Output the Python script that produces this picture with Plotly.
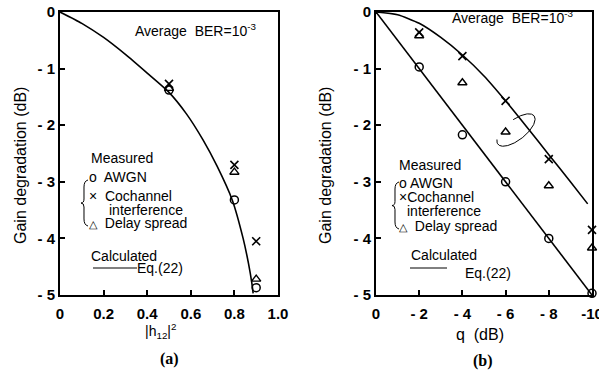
import numpy as np
import plotly.graph_objects as go

W, H = 599, 373

# ---------------- data (a) ----------------
h_curve_x = [0, 0.1, 0.2, 0.3, 0.4, 0.5, 0.58, 0.656, 0.72, 0.79, 0.84, 0.865, 0.88, 0.886]
h_curve_y = [0, -0.2, -0.45, -0.75, -1.08, -1.42, -1.8, -2.26, -2.72, -3.32, -4.0, -4.45, -4.79, -4.97]
h_meas = [0.5, 0.8, 0.9]
awgn_a = [-1.38, -3.32, -4.87]
cci_a = [-1.27, -2.70, -4.05]
delay_a = [-1.35, -2.83, -4.72]

# ---------------- data (b) ----------------
q_line_x = [0, -10]
q_line_y = [0, -5]
q_curve_x = [0, -1, -2, -3, -4, -5, -6, -7, -8, -9, -9.8]
q_curve_y = [0, -0.05, -0.2, -0.45, -0.76, -1.13, -1.57, -2.04, -2.52, -3.0, -3.39]
q_meas = [-2, -4, -6, -8, -10]
awgn_b = [-0.97, -2.17, -3.0, -4.0, -4.97]
cci_b = [-0.36, -0.78, -1.57, -2.6, -3.85]
delay_b = [-0.42, -1.25, -2.12, -3.07, -4.17]

y_ticks = [0, -1, -2, -3, -4, -5]
y_ticktext = ["0", "- 1", "- 2", "- 3", "- 4", "- 5"]
xa_ticks = [0, 0.2, 0.4, 0.6, 0.8, 1.0]
xa_ticktext = ["0", "0.2", "0.4", "0.6", "0.8", "1.0"]
xb_ticks = [0, -2, -4, -6, -8, -10]
xb_ticktext = ["0", "- 2", "- 4", "- 6", "- 8", "-10"]

FONT = "Liberation Sans"

# pixel geometry
AX0, AX1 = 60, 278
BX0, BX1 = 376, 592
YT, YB = 12, 295


def px(x):
    return x / W


def py(y):
    return 1 - y / H


fig = go.Figure()

line_style = dict(color="black", width=1.6)
common = dict(mode="markers", cliponaxis=False, showlegend=False, hoverinfo="skip")


def add_panel(xref, yref, cx, cy_list, meas_x, awgn, cci, delay):
    for cxv, cyv in zip(cx, cy_list):
        fig.add_trace(go.Scatter(x=cxv, y=cyv, mode="lines",
                                 line=dict(shape="spline", smoothing=0.6, **line_style),
                                 xaxis=xref, yaxis=yref, showlegend=False, hoverinfo="skip"))
    fig.add_trace(go.Scatter(x=meas_x, y=awgn, marker=dict(symbol="circle-open", size=8, color="black",
                                                            line=dict(width=1.5, color="black")),
                             xaxis=xref, yaxis=yref, **common))
    fig.add_trace(go.Scatter(x=meas_x, y=cci, marker=dict(symbol="x-thin", size=8, color="black",
                                                           line=dict(width=1.6, color="black")),
                             xaxis=xref, yaxis=yref, **common))
    fig.add_trace(go.Scatter(x=meas_x, y=delay, marker=dict(symbol="triangle-up-open", size=8, color="black",
                                                             line=dict(width=1.4, color="black")),
                             xaxis=xref, yaxis=yref, **common))


add_panel("x", "y", [h_curve_x], [h_curve_y], h_meas, awgn_a, cci_a, delay_a)
add_panel("x2", "y2", [q_line_x, q_curve_x], [q_line_y, q_curve_y], q_meas, awgn_b, cci_b, delay_b)

# ellipse annotation in panel (b): centre in data coords, size in pixels
ell_cq, ell_cy = -6.48, -2.085
ell_a, ell_b, ell_theta = 23, 10, np.deg2rad(38)
pxq = (BX1 - BX0) / 10.0
pxy = (YB - YT) / 5.0
t = np.deg2rad(np.linspace(-205, 80, 120))
dx = ell_a * np.cos(t) * np.cos(ell_theta) - ell_b * np.sin(t) * np.sin(ell_theta)
dy = ell_a * np.cos(t) * np.sin(ell_theta) + ell_b * np.sin(t) * np.cos(ell_theta)
fig.add_trace(go.Scatter(x=ell_cq - dx / pxq, y=ell_cy + dy / pxy, mode="lines",
                         line=dict(color="black", width=1), xaxis="x2", yaxis="y2",
                         showlegend=False, hoverinfo="skip", cliponaxis=False))

axis_common = dict(showgrid=False, zeroline=False, showline=True, linecolor="black", linewidth=2,
                   mirror=True, ticks="inside", ticklen=5, tickwidth=1.5, tickcolor="black",
                   automargin=False, ticklabeloverflow="allow",
                   tickfont=dict(family=FONT, size=15, color="black", weight="bold"))

fig.update_layout(
    width=W, height=H, margin=dict(l=0, r=0, t=0, b=0, autoexpand=False),
    paper_bgcolor="white", plot_bgcolor="white",
    xaxis=dict(domain=[px(AX0), px(AX1)], range=[0, 1.0], tickvals=xa_ticks, ticktext=xa_ticktext,
               anchor="y", ticklabelstandoff=4, **axis_common),
    yaxis=dict(domain=[py(YB), py(YT)], range=[-5, 0], tickvals=y_ticks, ticktext=y_ticktext,
               anchor="x", **axis_common),
    xaxis2=dict(domain=[px(BX0), px(BX1)], range=[0, -10], tickvals=xb_ticks, ticktext=xb_ticktext,
                anchor="y2", ticklabelstandoff=4, **axis_common),
    yaxis2=dict(domain=[py(YB), py(YT)], range=[-5, 0], tickvals=y_ticks, ticktext=y_ticktext,
                anchor="x2", **axis_common),
)


def text(x, y, s, size=14, xanchor="left", family=FONT, angle=0):
    fig.add_annotation(x=px(x), y=py(y), xref="paper", yref="paper", text=s, showarrow=False,
                       xanchor=xanchor, yanchor="middle", textangle=angle, borderpad=0,
                       font=dict(family=family, size=size, color="black"))


def sym(ch, size):
    return f'<span style="font-size:{size}px">{ch}</span>'


def brace(x, y0, y1):
    ym = (y0 + y1) / 2
    pts = [("M", x + 4, y0), ("Q", x, y0 + 1), ("", x, y0 + 7), ("L", x, ym - 4), ("Q", x, ym), ("", x - 3, ym),
           ("Q", x, ym), ("", x, ym + 4), ("L", x, y1 - 7), ("Q", x, y1 - 1), ("", x + 4, y1)]
    path = " ".join(f"{c}{px(a):.5f},{py(b):.5f}" for c, a, b in pts)
    fig.add_shape(type="path", path=path, xref="paper", yref="paper", line=dict(color="black", width=1))


CIRC = sym("o", 14)
TRI = sym("△", 11)
CROSS = sym("×", 14)

# panel (a) texts
text(134, 30, "Average  BER=10<sup>-3</sup>", 14)
text(90, 158, "Measured", 14)
text(88, 177, CIRC + "  AWGN", 14)
text(88, 196, CROSS + "  Cochannel", 14)
text(108, 210, "interference", 14)
text(88, 223, TRI + "  Delay spread", 14)
brace(84, 180, 226)
text(90, 256, "Calculated", 14)
fig.add_shape(type="line", x0=px(93), x1=px(137), y0=py(268), y1=py(268), xref="paper", yref="paper",
              line=dict(color="black", width=1))
text(136, 268, "Eq.(22)", 14)
text(20, 166, "Gain degradation (dB)", 16, xanchor="center", angle=-90)
text(160, 331, "|h<sub>12</sub>|<sup>2</sup>", 14, xanchor="center")
text(170, 359, "<b>(a)</b>", 16, xanchor="center", family="Liberation Serif")

# panel (b) texts
text(451, 17, "Average  BER=10<sup>-3</sup>", 14)
text(398, 165, "Measured", 14)
text(398, 183, CIRC + " AWGN", 14)
text(398, 197, CROSS + "Cochannel", 14)
text(406, 211, "interference", 14)
text(398, 226, TRI + "  Delay spread", 14)
brace(395, 182, 229)
text(410, 255, "Calculated", 14)
fig.add_shape(type="line", x0=px(410), x1=px(447), y0=py(268), y1=py(268), xref="paper", yref="paper",
              line=dict(color="black", width=1))
text(464, 273, "Eq.(22)", 14)
text(325, 166, "Gain degradation (dB)", 16, xanchor="center", angle=-90)
text(480, 334, "q  (dB)", 16, xanchor="center")
text(483, 361, "<b>(b)</b>", 16, xanchor="center", family="Liberation Serif")

fig.write_html("out.html")
